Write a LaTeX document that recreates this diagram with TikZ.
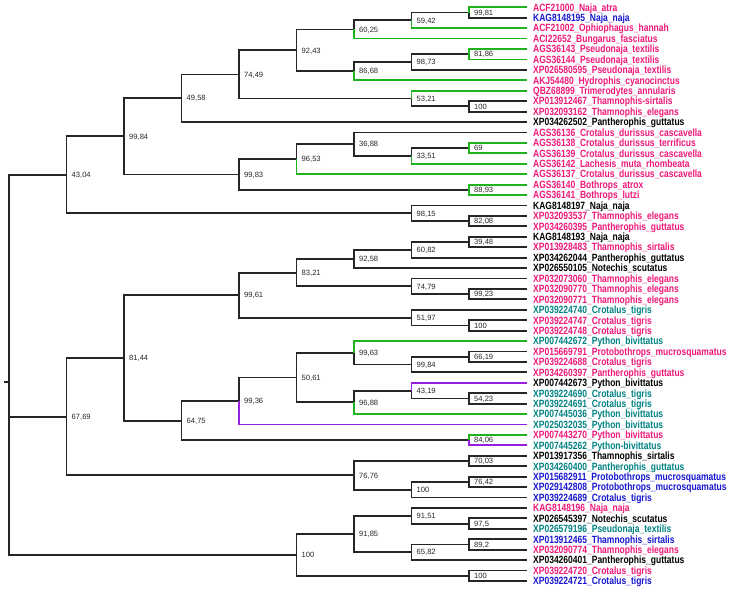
\documentclass[tikz,border=0pt]{standalone}
\usepackage{fontspec}
\setmainfont{Liberation Sans}
\newfontfamily\leaffont[FakeStretch=0.81]{Liberation Sans}
\definecolor{pk}{RGB}{240,24,120}
\definecolor{bl}{RGB}{22,22,210}
\definecolor{tl}{RGB}{0,130,130}
\definecolor{gn}{RGB}{30,180,30}
\definecolor{pu}{RGB}{150,30,220}
\begin{document}
\begin{tikzpicture}[x=1pt,y=-1pt,line join=miter,
	br/.style={line width=1.8pt,black!85},
	gbr/.style={line width=1.8pt,gn},
	pbr/.style={line width=1.8pt,pu},
	leaf/.style={anchor=base west,inner sep=0pt,xshift=6.5pt,yshift=-3.8pt,font=\leaffont\bfseries\fontsize{10.5}{12}\selectfont},
	bs/.style={anchor=base west,inner sep=0pt,xshift=5pt,yshift=-2.7pt,text=black!85,font=\fontsize{7.6}{9}\selectfont}] %cay phat sinh
	\useasboundingbox (0,0) rectangle (731,590);
	% la
	\path (526.5,7.30) coordinate (l1) node[leaf,pk] (t1) {ACF21000\_Naja\_atra};
	\path (526.5,17.73) coordinate (l2) node[leaf,bl] (t2) {KAG8148195\_Naja\_naja};
	\path (526.5,28.16) coordinate (l3) node[leaf,pk] (t3) {ACF21002\_Ophiophagus\_hannah};
	\path (526.5,38.59) coordinate (l4) node[leaf,pk] (t4) {ACI22652\_Bungarus\_fasciatus};
	\path (526.5,49.02) coordinate (l5) node[leaf,pk] (t5) {AGS36143\_Pseudonaja\_textilis};
	\path (526.5,59.45) coordinate (l6) node[leaf,pk] (t6) {AGS36144\_Pseudonaja\_textilis};
	\path (526.5,69.88) coordinate (l7) node[leaf,pk] (t7) {XP026580595\_Pseudonaja\_textilis};
	\path (526.5,80.31) coordinate (l8) node[leaf,pk] (t8) {AKJ54480\_Hydrophis\_cyanocinctus};
	\path (526.5,90.74) coordinate (l9) node[leaf,pk] (t9) {QBZ68899\_Trimerodytes\_annularis};
	\path (526.5,101.17) coordinate (l10) node[leaf,pk] (t10) {XP013912467\_Thamnophis-sirtalis};
	\path (526.5,111.60) coordinate (l11) node[leaf,pk] (t11) {XP032093162\_Thamnophis\_elegans};
	\path (526.5,122.03) coordinate (l12) node[leaf] (t12) {XP034262502\_Pantherophis\_guttatus};
	\path (526.5,132.46) coordinate (l13) node[leaf,pk] (t13) {AGS36136\_Crotalus\_durissus\_cascavella};
	\path (526.5,142.89) coordinate (l14) node[leaf,pk] (t14) {AGS36138\_Crotalus\_durissus\_terrificus};
	\path (526.5,153.32) coordinate (l15) node[leaf,pk] (t15) {AGS36139\_Crotalus\_durissus\_cascavella};
	\path (526.5,163.75) coordinate (l16) node[leaf,pk] (t16) {AGS36142\_Lachesis\_muta\_rhombeata};
	\path (526.5,174.18) coordinate (l17) node[leaf,pk] (t17) {AGS36137\_Crotalus\_durissus\_cascavella};
	\path (526.5,184.61) coordinate (l18) node[leaf,pk] (t18) {AGS36140\_Bothrops\_atrox};
	\path (526.5,195.04) coordinate (l19) node[leaf,pk] (t19) {AGS36141\_Bothrops\_lutzi};
	\path (526.5,205.47) coordinate (l20) node[leaf] (t20) {KAG8148197\_Naja\_naja};
	\path (526.5,215.90) coordinate (l21) node[leaf,pk] (t21) {XP032093537\_Thamnophis\_elegans};
	\path (526.5,226.33) coordinate (l22) node[leaf,pk] (t22) {XP034260395\_Pantherophis\_guttatus};
	\path (526.5,236.76) coordinate (l23) node[leaf] (t23) {KAG8148193\_Naja\_naja};
	\path (526.5,247.19) coordinate (l24) node[leaf,pk] (t24) {XP013928483\_Thamnophis\_sirtalis};
	\path (526.5,257.62) coordinate (l25) node[leaf] (t25) {XP034262044\_Pantherophis\_guttatus};
	\path (526.5,268.05) coordinate (l26) node[leaf] (t26) {XP026550105\_Notechis\_scutatus};
	\path (526.5,278.48) coordinate (l27) node[leaf,pk] (t27) {XP032073060\_Thamnophis\_elegans};
	\path (526.5,288.91) coordinate (l28) node[leaf,pk] (t28) {XP032090770\_Thamnophis\_elegans};
	\path (526.5,299.34) coordinate (l29) node[leaf,pk] (t29) {XP032090771\_Thamnophis\_elegans};
	\path (526.5,309.77) coordinate (l30) node[leaf,tl] (t30) {XP039224740\_Crotalus\_tigris};
	\path (526.5,320.20) coordinate (l31) node[leaf,pk] (t31) {XP039224747\_Crotalus\_tigris};
	\path (526.5,330.63) coordinate (l32) node[leaf,pk] (t32) {XP039224748\_Crotalus\_tigris};
	\path (526.5,341.06) coordinate (l33) node[leaf,tl] (t33) {XP007442672\_Python\_bivittatus};
	\path (526.5,351.49) coordinate (l34) node[leaf,pk] (t34) {XP015669791\_Protobothrops\_mucrosquamatus};
	\path (526.5,361.92) coordinate (l35) node[leaf,pk] (t35) {XP039224688\_Crotalus\_tigris};
	\path (526.5,372.35) coordinate (l36) node[leaf,pk] (t36) {XP034260397\_Pantherophis\_guttatus};
	\path (526.5,382.78) coordinate (l37) node[leaf] (t37) {XP007442673\_Python\_bivittatus};
	\path (526.5,393.21) coordinate (l38) node[leaf,tl] (t38) {XP039224690\_Crotalus\_tigris};
	\path (526.5,403.64) coordinate (l39) node[leaf,tl] (t39) {XP039224691\_Crotalus\_tigris};
	\path (526.5,414.07) coordinate (l40) node[leaf,tl] (t40) {XP007445036\_Python\_bivittatus};
	\path (526.5,424.50) coordinate (l41) node[leaf,tl] (t41) {XP025032035\_Python\_bivittatus};
	\path (526.5,434.93) coordinate (l42) node[leaf,pk] (t42) {XP007443270\_Python\_bivittatus};
	\path (526.5,445.36) coordinate (l43) node[leaf,tl] (t43) {XP007445262\_Python-bivittatus};
	\path (526.5,455.79) coordinate (l44) node[leaf] (t44) {XP013917356\_Thamnophis\_sirtalis};
	\path (526.5,466.22) coordinate (l45) node[leaf,tl] (t45) {XP034260400\_Pantherophis\_guttatus};
	\path (526.5,476.65) coordinate (l46) node[leaf,bl] (t46) {XP015682911\_Protobothrops\_mucrosquamatus};
	\path (526.5,487.08) coordinate (l47) node[leaf,bl] (t47) {XP029142808\_Protobothrops\_mucrosquamatus};
	\path (526.5,497.51) coordinate (l48) node[leaf,bl] (t48) {XP039224689\_Crotalus\_tigris};
	\path (526.5,507.94) coordinate (l49) node[leaf,pk] (t49) {KAG8148196\_Naja\_naja};
	\path (526.5,518.37) coordinate (l50) node[leaf] (t50) {XP026545397\_Notechis\_scutatus};
	\path (526.5,528.80) coordinate (l51) node[leaf,tl] (t51) {XP026579196\_Pseudonaja\_textilis};
	\path (526.5,539.23) coordinate (l52) node[leaf,bl] (t52) {XP013912465\_Thamnophis\_sirtalis};
	\path (526.5,549.66) coordinate (l53) node[leaf,pk] (t53) {XP032090774\_Thamnophis\_elegans};
	\path (526.5,560.09) coordinate (l54) node[leaf] (t54) {XP034260401\_Pantherophis\_guttatus};
	\path (526.5,570.52) coordinate (l55) node[leaf,pk] (t55) {XP039224720\_Crotalus\_tigris};
	\path (526.5,580.95) coordinate (l56) node[leaf,bl] (t56) {XP039224721\_Crotalus\_tigris};
	% nut trong
	\path (469,12.52) coordinate (b9981) node[bs] (v9981) {99,81};
	\path (411.5,20.34) coordinate (b5942) node[bs] (v5942) {59,42};
	\path (354,29.47) coordinate (b6025) node[bs] (v6025) {60,25};
	\path (469,54.24) coordinate (b8186) node[bs] (v8186) {81,86};
	\path (411.5,62.06) coordinate (b9873) node[bs] (v9873) {98,73};
	\path (354,71.19) coordinate (b8668) node[bs] (v8668) {86,68};
	\path (296.5,50.33) coordinate (b9243) node[bs] (v9243) {92,43};
	\path (469,106.39) coordinate (b100a) node[bs] (v100a) {100};
	\path (411.5,98.57) coordinate (b5321) node[bs] (v5321) {53,21};
	\path (239,74.45) coordinate (b7449) node[bs] (v7449) {74,49};
	\path (181.5,98.24) coordinate (b4958) node[bs] (v4958) {49,58};
	\path (469,148.11) coordinate (b69) node[bs] (v69) {69};
	\path (411.5,155.93) coordinate (b3351) node[bs] (v3351) {33,51};
	\path (354,144.20) coordinate (b3688) node[bs] (v3688) {36,88};
	\path (296.5,159.19) coordinate (b9653) node[bs] (v9653) {96,53};
	\path (469,189.83) coordinate (b8893) node[bs] (v8893) {88,93};
	\path (239,174.51) coordinate (b9983) node[bs] (v9983) {99,83};
	\path (124,136.38) coordinate (b9984a) node[bs] (v9984a) {99,84};
	\path (469,221.12) coordinate (b8208) node[bs] (v8208) {82,08};
	\path (411.5,213.30) coordinate (b9815) node[bs] (v9815) {98,15};
	\path (66.5,174.84) coordinate (b4304) node[bs] (v4304) {43,04};
	\path (469,241.98) coordinate (b3948) node[bs] (v3948) {39,48};
	\path (411.5,249.80) coordinate (b6082) node[bs] (v6082) {60,82};
	\path (354,258.93) coordinate (b9258) node[bs] (v9258) {92,58};
	\path (469,294.13) coordinate (b9923) node[bs] (v9923) {99,23};
	\path (411.5,286.31) coordinate (b7479) node[bs] (v7479) {74,79};
	\path (296.5,272.62) coordinate (b8321) node[bs] (v8321) {83,21};
	\path (469,325.42) coordinate (b100b) node[bs] (v100b) {100};
	\path (411.5,317.60) coordinate (b5197) node[bs] (v5197) {51,97};
	\path (239,295.11) coordinate (b9961) node[bs] (v9961) {99,61};
	\path (469,356.71) coordinate (b6619) node[bs] (v6619) {66,19};
	\path (411.5,364.53) coordinate (b9984b) node[bs] (v9984b) {99,84};
	\path (354,352.80) coordinate (b9963) node[bs] (v9963) {99,63};
	\path (469,398.43) coordinate (b5423) node[bs] (v5423) {54,23};
	\path (411.5,390.61) coordinate (b4319) node[bs] (v4319) {43,19};
	\path (354,402.34) coordinate (b9688) node[bs] (v9688) {96,88};
	\path (296.5,377.57) coordinate (b5061) node[bs] (v5061) {50,61};
	\path (239,401.04) coordinate (b9936) node[bs] (v9936) {99,36};
	\path (469,440.15) coordinate (b8406) node[bs] (v8406) {84,06};
	\path (181.5,420.60) coordinate (b6475) node[bs] (v6475) {64,75};
	\path (124,357.86) coordinate (b8144) node[bs] (v8144) {81,44};
	\path (469,461.01) coordinate (b7003) node[bs] (v7003) {70,03};
	\path (469,481.87) coordinate (b7642) node[bs] (v7642) {76,42};
	\path (411.5,489.69) coordinate (b100c) node[bs] (v100c) {100};
	\path (354,475.35) coordinate (b7676) node[bs] (v7676) {76,76};
	\path (66.5,416.61) coordinate (b6769) node[bs] (v6769) {67,69};
	\path (469,523.59) coordinate (b975) node[bs] (v975) {97,5};
	\path (411.5,515.77) coordinate (b9151) node[bs] (v9151) {91,51};
	\path (469,544.45) coordinate (b892) node[bs] (v892) {89,2};
	\path (411.5,552.27) coordinate (b6582) node[bs] (v6582) {65,82};
	\path (354,534.02) coordinate (b9185) node[bs] (v9185) {91,85};
	\path (469,575.74) coordinate (b100d) node[bs] (v100d) {100};
	\path (296.5,554.88) coordinate (b100e) node[bs] (v100e) {100};
	\coordinate (root) at (9,382);
	\coordinate (stub) at (4,382);
	% nhanh den
	\draw[br] (b9981) |- (l2) (b5942) |- (b9981) (b6025) |- (b5942);
	\draw[br] (b9873) |- (b8186) (b9873) |- (l7) (b8668) |- (b9873);
	\draw[br] (b9243) |- (b6025) (b9243) |- (b8668);
	\draw[br] (b100a) |- (l10) (b100a) |- (l11) (b5321) |- (b100a);
	\draw[br] (b7449) |- (b9243) (b7449) |- (b5321) (b4958) |- (b7449) (b4958) |- (l12);
	\draw[br] (b3351) |- (b69) (b3688) |- (l13) (b3688) |- (b3351) (b9653) |- (b3688);
	\draw[br] (b9983) |- (b9653) (b9983) |- (b8893) (b9984a) |- (b4958) (b9984a) |- (b9983);
	\draw[br] (b8208) |- (l21) (b8208) |- (l22) (b9815) |- (l20) (b9815) |- (b8208);
	\draw[br] (b4304) |- (b9984a) (b4304) |- (b9815);
	\draw[br] (b3948) |- (l23) (b3948) |- (l24) (b6082) |- (b3948) (b6082) |- (l25);
	\draw[br] (b9258) |- (b6082) (b9258) |- (l26);
	\draw[br] (b9923) |- (l28) (b9923) |- (l29) (b7479) |- (l27) (b7479) |- (b9923);
	\draw[br] (b8321) |- (b9258) (b8321) |- (b7479);
	\draw[br] (b100b) |- (l31) (b100b) |- (l32) (b5197) |- (l30) (b5197) |- (b100b);
	\draw[br] (b9961) |- (b8321) (b9961) |- (b5197);
	\draw[br] (b6619) |- (l34) (b6619) |- (l35) (b9984b) |- (b6619) (b9984b) |- (l36) (b9963) |- (b9984b);
	\draw[br] (b5423) |- (l38) (b5423) |- (l39) (b4319) |- (b5423) (b9688) |- (b4319);
	\draw[br] (b5061) |- (b9963) (b5061) |- (b9688) (b9936) |- (b5061);
	\draw[br] (b6475) |- (b9936) (b6475) |- (b8406) (b8144) |- (b9961) (b8144) |- (b6475);
	\draw[br] (b7003) |- (l44) (b7003) |- (l45) (b7642) |- (l46) (b7642) |- (l47);
	\draw[br] (b100c) |- (b7642) (b100c) |- (l48) (b7676) |- (b7003) (b7676) |- (b100c);
	\draw[br] (b6769) |- (b8144) (b6769) |- (b7676);
	\draw[br] (b975) |- (l50) (b975) |- (l51) (b9151) |- (l49) (b9151) |- (b975);
	\draw[br] (b892) |- (l52) (b892) |- (l53) (b6582) |- (b892) (b6582) |- (l54);
	\draw[br] (b9185) |- (b9151) (b9185) |- (b6582);
	\draw[br] (b100d) |- (l55) (b100d) |- (l56) (b100e) |- (b9185) (b100e) |- (b100d);
	\draw[br] (root) |- (b4304) (root) |- (b6769) (root) |- (b100e) (root) -- (stub);
	% nhanh mau
	\draw[gbr] (b9981) |- (l1) (b5942) |- (l3) (b6025) |- (l4);
	\draw[gbr] (b8186) |- (l5) (b8186) |- (l6) (b8668) |- (l8) (b5321) |- (l9);
	\draw[gbr] (b69) |- (l14) (b69) |- (l15) (b3351) |- (l16) (b9653) |- (l17);
	\draw[gbr] (b8893) |- (l18) (b8893) |- (l19);
	\draw[gbr] (b9963) |- (l33) (b9688) |- (l40) (b8406) |- (l42);
	\draw[pbr] (b4319) |- (l37) (b9936) |- (l41) (b8406) |- (l43);
\end{tikzpicture}
\end{document}
